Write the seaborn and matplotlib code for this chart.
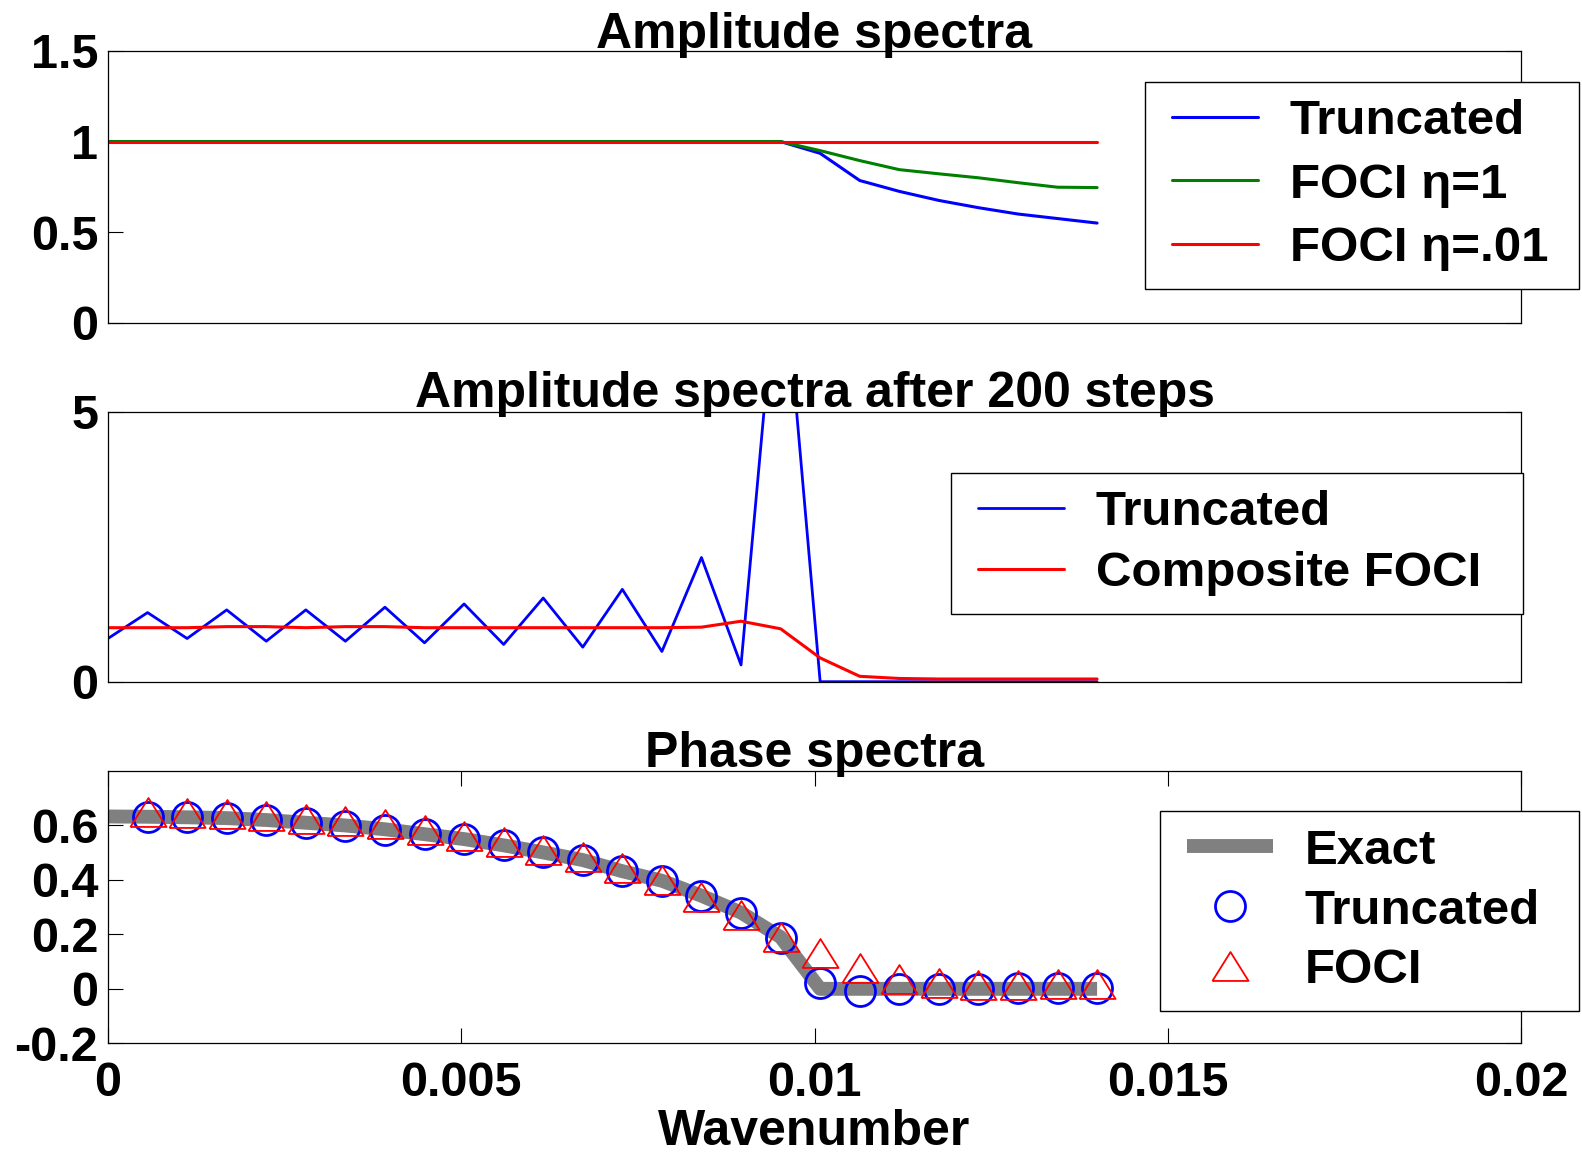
import matplotlib
matplotlib.use("Agg")
import matplotlib.pyplot as plt
import seaborn as sns
from matplotlib.lines import Line2D
from matplotlib.legend_handler import HandlerLine2D

# ---------------------------------------------------------------- data
wavenumber = [0.0, 0.00056, 0.00112, 0.00168, 0.00224, 0.0028, 0.00336,
              0.00392, 0.00448, 0.00504, 0.0056, 0.00616, 0.00672, 0.00728,
              0.00784, 0.0084, 0.00896, 0.00952, 0.01008, 0.01064, 0.0112,
              0.01176, 0.01232, 0.01288, 0.01344, 0.014]

# initial amplitude spectra
amp_truncated = [1, 1, 1, 1, 1, 1, 1, 1, 1, 1, 1, 1, 1, 1, 1, 1, 1, 1,
                 0.935, 0.785, 0.725, 0.675, 0.635, 0.60, 0.575, 0.55]
amp_foci_eta1 = [1, 1, 1, 1, 1, 1, 1, 1, 1, 1, 1, 1, 1, 1, 1, 1, 1, 1,
                 0.95, 0.895, 0.845, 0.822, 0.80, 0.773, 0.748, 0.746]
amp_foci_eta001 = [1, 1, 1, 1, 1, 1, 1, 1, 1, 1, 1, 1, 1, 1, 1, 1, 1, 1,
                   1, 1, 1, 1, 1, 1, 1, 1]

# amplitude spectra after 200 steps
amp200_truncated = [0.80, 1.28, 0.80, 1.33, 0.75, 1.33, 0.75, 1.38, 0.72,
                    1.44, 0.69, 1.55, 0.64, 1.71, 0.56, 2.30, 0.31, 8.4,
                    0, 0, 0, 0, 0, 0, 0, 0]
amp200_composite = [1.0, 1.0, 1.0, 1.02, 1.02, 1.0, 1.02, 1.02, 1.0, 1.0,
                    1.0, 1.0, 1.0, 1.0, 1.0, 1.01, 1.12, 0.98, 0.44, 0.10,
                    0.06, 0.05, 0.05, 0.05, 0.05, 0.05]

# phase spectra
phase_exact = [0.633, 0.632, 0.630, 0.627, 0.620, 0.610, 0.600, 0.586,
               0.568, 0.550, 0.527, 0.501, 0.473, 0.432, 0.397, 0.342,
               0.280, 0.190, 0.0, 0.0, 0.0, 0.0, 0.0, 0.0, 0.0, 0.0]
phase_truncated = [0.631, 0.630, 0.627, 0.619, 0.609, 0.599, 0.585, 0.567,
                   0.550, 0.527, 0.501, 0.473, 0.431, 0.397, 0.341, 0.280,
                   0.188, 0.023, -0.008, 0.0, -0.001, 0.0, 0.002, 0.002,
                   0.002]
phase_foci = [0.651, 0.644, 0.643, 0.636, 0.624, 0.617, 0.604, 0.582,
              0.562, 0.539, 0.511, 0.485, 0.443, 0.400, 0.338, 0.270,
              0.192, 0.132, 0.076, 0.036, 0.021, 0.015, 0.015, 0.018,
              0.018]

x_ticks = [0, 0.005, 0.01, 0.015, 0.02]
x_ticklabels = ["0", "0.005", "0.01", "0.015", "0.02"]
top_yticks = [0, 0.5, 1, 1.5]
top_yticklabels = ["0", "0.5", "1", "1.5"]
mid_yticks = [0, 5]
mid_yticklabels = ["0", "5"]
bot_yticks = [-0.2, 0, 0.2, 0.4, 0.6]
bot_yticklabels = ["-0.2", "0", "0.2", "0.4", "0.6"]

# ---------------------------------------------------------------- style
sns.set_theme(style="ticks")
plt.rcParams["font.family"] = ["Liberation Sans", "DejaVu Sans"]
plt.rcParams["font.weight"] = "bold"
plt.rcParams["axes.linewidth"] = 0.9
plt.rcParams["axes.edgecolor"] = "black"
plt.rcParams["text.color"] = "black"
plt.rcParams["axes.labelcolor"] = "black"
plt.rcParams["axes.titlecolor"] = "black"
plt.rcParams["xtick.color"] = "black"
plt.rcParams["ytick.color"] = "black"
plt.rcParams["xtick.labelcolor"] = "black"
plt.rcParams["ytick.labelcolor"] = "black"

W, H = 1582, 1152
fig = plt.figure(figsize=(W / 100, H / 100), dpi=100)
fig.patch.set_facecolor("white")

LEFT, WIDTH = 108 / W, (1521 - 108) / W


def panel(top_px, bottom_px):
    return fig.add_axes([LEFT, 1 - bottom_px / H, WIDTH,
                         (bottom_px - top_px) / H])


ax1 = panel(51, 322.7)
ax2 = panel(411.7, 681.7)
ax3 = panel(771, 1043.3)

TICK_FS = 35
TITLE_FS = 36
LEG_FS = 35.5

for ax in (ax1, ax2, ax3):
    ax.set_facecolor("white")
    for s in ax.spines.values():
        s.set_visible(True)
        s.set_color("black")
        s.set_linewidth(0.9)
    ax.set_xlim(0, 0.02)
    ax.tick_params(direction="in", length=10.8, width=0.8, colors="black",
                   labelcolor="black", labelsize=TICK_FS, right=True)
    ax.tick_params(axis="y", pad=7)
    ax.tick_params(axis="x", pad=13)

# ---------------------------------------------------------------- top panel
sns.lineplot(x=wavenumber, y=amp_truncated, ax=ax1, color="#0000ff",
             linewidth=2.2, label="Truncated")
sns.lineplot(x=wavenumber, y=amp_foci_eta1, ax=ax1, color="#008000",
             linewidth=2.2, label="FOCI η=1")
sns.lineplot(x=wavenumber, y=amp_foci_eta001, ax=ax1, color="#ff0000",
             linewidth=2.2, label="FOCI η=.01")
ax1.set_ylim(0, 1.5)
ax1.set_yticks(top_yticks)
ax1.set_yticklabels(top_yticklabels)
ax1.set_xticks([])
ax1.set_title("Amplitude spectra", fontsize=TITLE_FS, fontweight="bold",
              color="black", y=1.0, pad=2.2)

# ---------------------------------------------------------------- middle panel
sns.lineplot(x=wavenumber, y=amp200_truncated, ax=ax2, color="#0000ff",
             linewidth=2.0, label="Truncated")
sns.lineplot(x=wavenumber, y=amp200_composite, ax=ax2, color="#ff0000",
             linewidth=2.2, label="Composite FOCI")
ax2.set_ylim(0, 5)
ax2.set_yticks(mid_yticks)
ax2.set_yticklabels(mid_yticklabels)
ax2.set_xticks([])
ax2.set_title("Amplitude spectra after 200 steps", fontsize=TITLE_FS,
              fontweight="bold", color="black", y=1.0, pad=3.6)

# ---------------------------------------------------------------- bottom panel
sns.lineplot(x=wavenumber, y=phase_exact, ax=ax3, color="#808080",
             linewidth=10, solid_capstyle="butt", label="Exact")
sns.lineplot(x=wavenumber[1:], y=phase_truncated, ax=ax3, color="#0000ff",
             linestyle="", marker="o", markersize=21.6,
             markerfacecolor="none", markeredgecolor="#0000ff",
             markeredgewidth=2.0, label="Truncated")
tri = [(-1, -0.8), (1, -0.8), (0, 0.8), (-1, -0.8)]
sns.lineplot(x=wavenumber[1:], y=phase_foci, ax=ax3, color="#ff0000",
             linestyle="", marker=tri, markersize=26,
             markerfacecolor="none", markeredgecolor="#ff0000",
             markeredgewidth=1.3, label="FOCI")
ax3.set_ylim(-0.2, 0.8)
ax3.set_yticks(bot_yticks)
ax3.set_yticklabels(bot_yticklabels)
ax3.set_xticks(x_ticks)
ax3.set_xticklabels(x_ticklabels)
ax3.tick_params(axis="x", top=True)
ax3.set_title("Phase spectra", fontsize=TITLE_FS, fontweight="bold",
              color="black", y=1.0, pad=2.9)
ax3.set_xlabel("Wavenumber", fontsize=TITLE_FS, fontweight="bold",
               color="black", labelpad=2)
ax2.set_xlabel("")
ax1.set_xlabel("")


# ---------------------------------------------------------------- legends
def boxed_legend(ax, left_px, right_px, top_px, spacing):
    handles, labels = ax.get_legend_handles_labels()
    anchor = (left_px / W, 1 - top_px / H, (right_px - left_px) / W, 0)
    leg = ax.legend(handles, labels, loc="upper left", mode="expand",
                    bbox_to_anchor=anchor,
                    bbox_transform=fig.transFigure, borderaxespad=0,
                    borderpad=0.36, labelspacing=spacing, handlelength=1.94,
                    handletextpad=0.64, numpoints=1, fancybox=False,
                    frameon=True, framealpha=1, edgecolor="black",
                    prop={"size": LEG_FS, "weight": "bold"},
                    handler_map={Line2D: HandlerLine2D(xpad=0.194)})
    leg.get_frame().set_linewidth(1.0)
    leg.set_zorder(10)
    for t in leg.get_texts():
        t.set_color("black")
    return leg


boxed_legend(ax1, 1145, 1579, 81.7, 0.37)
boxed_legend(ax2, 951, 1523, 472.7, 0.32)
boxed_legend(ax3, 1160, 1579, 811, 0.30)

fig.savefig("out.png", dpi=100, facecolor="white")
